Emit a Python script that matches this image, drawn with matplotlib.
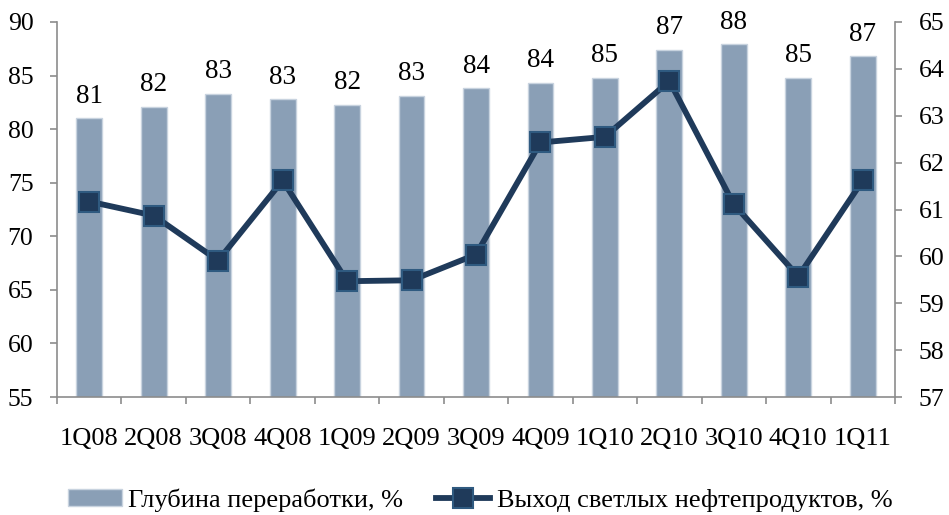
import matplotlib
matplotlib.use("Agg")
import matplotlib.pyplot as plt
import numpy as np

categories = ["1Q08", "2Q08", "3Q08", "4Q08", "1Q09", "2Q09", "3Q09",
              "4Q09", "1Q10", "2Q10", "3Q10", "4Q10", "1Q11"]
depth = [81.0, 82.1, 83.3, 82.8, 82.3, 83.1, 83.8, 84.3, 84.8, 87.4, 87.9, 84.8, 86.8]
depth_labels = ["81", "82", "83", "83", "82", "83", "84", "84", "85", "87", "88", "85", "87"]
light_yield = [61.17, 60.87, 59.91, 61.62, 59.47, 59.49, 60.04, 62.43, 62.55,
               63.74, 61.11, 59.57, 61.62]

plt.rcParams["font.family"] = ["Liberation Serif", "DejaVu Serif"]

fig = plt.figure(figsize=(9.49, 5.15), dpi=100)
ax = fig.add_axes([57/949, 1-397/515, (895-57)/949, (397-22)/515])
ax2 = ax.twinx()

x = np.arange(len(categories))
bars = ax.bar(x, depth, width=0.4, color="#8A9FB6", edgecolor="#C8D3DF",
              linewidth=1.0, bottom=0, zorder=2, label="Глубина переработки, %")
for xi, v, lab in zip(x, depth, depth_labels):
    ax.text(xi, v + 0.9, lab, ha="center", va="bottom", fontsize=19.5)

ax.set_ylim(55, 90)
ax.set_xlim(-0.5, len(categories) - 0.5)
ax.set_yticks(range(55, 91, 5))
ax.set_xticks(x)
ax.set_xticklabels(categories)
ax.set_xticks(np.arange(-0.5, len(categories), 1), minor=True)
ax.tick_params(axis="x", which="major", length=0, pad=22, labelsize=19)
ax.tick_params(axis="x", which="minor", length=5, color="#8C8C8C", width=1.2)
ax.tick_params(axis="y", length=5, color="#8C8C8C", width=1.2, labelsize=18.5, pad=12)

line, = ax2.plot(x, light_yield, color="#1F3A5A", linewidth=4.2, marker="s",
                 markersize=15, markerfacecolor="#1F3A5A", markeredgecolor="#2F5A80",
                 markeredgewidth=1.5, zorder=3, label="Выход светлых нефтепродуктов, %")
ax2.set_ylim(57, 65)
ax2.set_yticks(range(57, 66))
ax2.tick_params(axis="y", length=5, color="#8C8C8C", width=1.2, labelsize=18.5, pad=12)

for a in (ax, ax2):
    a.spines["top"].set_visible(False)
    for s in ("left", "right", "bottom"):
        a.spines[s].set_color("#8C8C8C")
        a.spines[s].set_linewidth(1.2)
ax.spines["right"].set_visible(False)
ax2.spines["left"].set_visible(False)
ax2.spines["bottom"].set_visible(False)

fig.legend([bars, line], ["Глубина переработки, %", "Выход светлых нефтепродуктов, %"],
           loc="center", bbox_to_anchor=(480/949, 1-500/515), ncol=2, frameon=False,
           fontsize=19, handlelength=2.05, handleheight=0.6, handletextpad=0.25,
           columnspacing=1.25, borderpad=0, borderaxespad=0)

fig.savefig("out.png", dpi=100)
